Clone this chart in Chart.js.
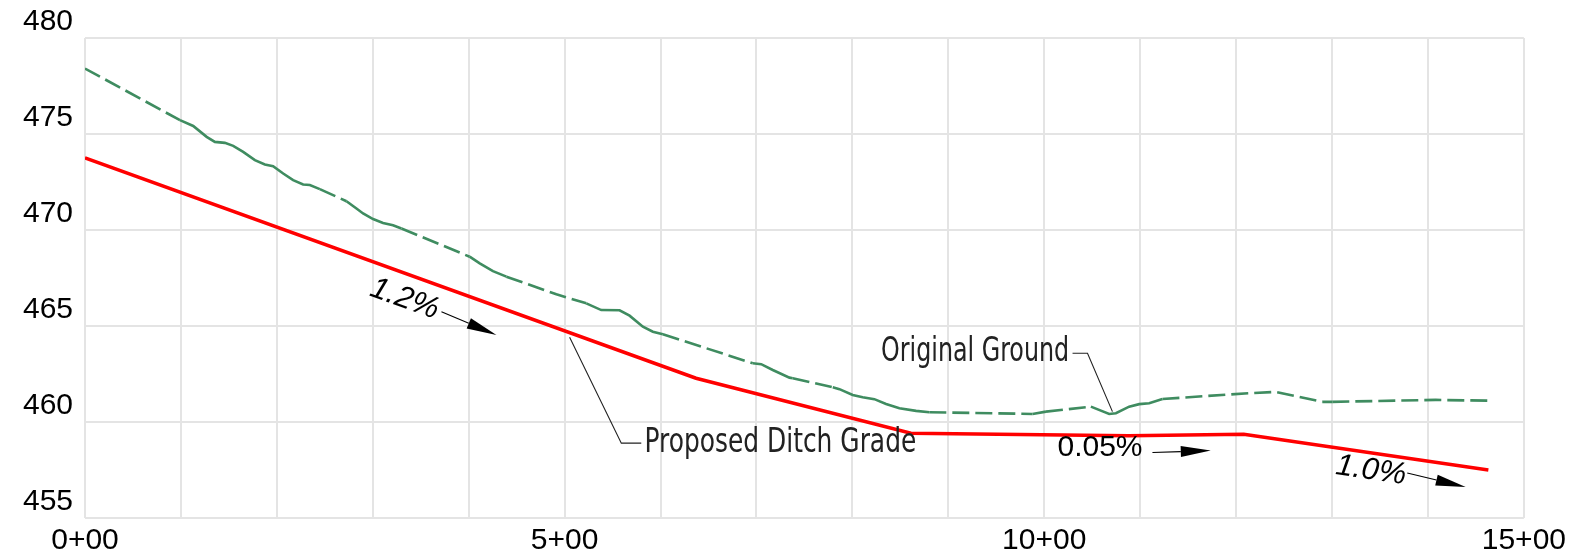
<!DOCTYPE html>
<html>
<head>
<meta charset="utf-8">
<script src="https://cdn.jsdelivr.net/npm/chart.js@4/dist/chart.umd.min.js"></script>
<style>
  body { margin: 0; background: #fff; }
  #wrap { width: 1571px; height: 556px; }
</style>
</head>
<body>
<div id="wrap"><canvas id="profile" width="1571" height="556"></canvas></div>
<script>
// original ground profile (station ft, elevation ft)
const groundStations = [0, 99, 112.8, 126.8, 135.4, 145.8, 154.5, 164.9, 177.1, 187.5, 196.1, 206.6, 217, 227.4, 234.4, 244.8,
    272.6, 283, 289.9, 300.3, 310.7, 321.1, 329.9, 401, 411.5, 425.3, 439.3, 491.4, 522.6, 538.2, 557.3, 567.7, 581.6, 592, 602.4,
    696.1, 704.9, 717, 734.4, 737.8, 779.5, 786.5, 800.3, 810.7, 822.9, 835.1, 849, 866.4, 880.2, 987.8, 1001.8, 1048.6, 1067.7,
    1074.7, 1088.5, 1099, 1109.4, 1123.2, 1213.5, 1241.4, 1289.9, 1300.3, 1408, 1463.5];
const groundElev = [478.41, 475.72, 475.42, 474.85, 474.59, 474.54, 474.38, 474.07, 473.64, 473.41, 473.32, 472.94, 472.60, 472.37, 472.34, 472.13,
    471.50, 471.12, 470.86, 470.57, 470.37, 470.25, 470.08, 468.61, 468.26, 467.86, 467.57, 466.65, 466.18, 465.83, 465.82, 465.54, 464.96, 464.70, 464.57,
    463.06, 463.01, 462.71, 462.31, 462.28, 461.81, 461.71, 461.41, 461.29, 461.19, 460.94, 460.72, 460.58, 460.51, 460.42, 460.54, 460.80, 460.42,
    460.46, 460.80, 460.93, 460.98, 461.20, 461.50, 461.57, 461.05, 461.05, 461.15, 461.11];

// proposed ditch grade
const ditchStations = [0, 637, 861, 1088, 1208, 1463];
const ditchElev = [473.76, 462.28, 459.42, 459.28, 459.36, 457.50];

// axis ticks
const stationMin = 0, stationMax = 1500, stationStep = 100, stationLabelEvery = 500;
const elevMin = 455, elevMax = 480, elevStep = 5;

// grade notes: text, label station/elev, arrow start/end (station, elev), ditch segment the text follows
const gradeText = ['1.2%', '0.05%', '1.0%'];
const gradeAt = [[333.3, 466.40], [1058.1, 458.68], [1340.6, 457.47]];
const gradeArrows = [[371.6, 465.74, 428.9, 464.53], [1112.8, 458.41, 1173.6, 458.51], [1378.4, 457.34, 1439.3, 456.61]];
const gradeSegment = [0, -1, 4];

// leader labels
const leaderText = ['Proposed Ditch Grade', 'Original Ground'];
const leaderPath = [
    [[505.2, 464.41], [559.1, 458.90], [579.9, 458.90]],
    [[1071.1, 460.54], [1045.1, 463.58], [1029.5, 463.58]]
];
const leaderBox = [[583.3, 866.6, 458.86], [829.9, 1026, 463.62]];

function stationLabel(v) {
    if (v % stationLabelEvery !== 0) return '';
    return Math.floor(v / 100) + '+' + String(v % 100).padStart(2, '0');
}

function toPoints(xs, ys) {
    return xs.map((x, i) => ({ x: x, y: ys[i] }));
}

function drawArrow(ctx, x0, y0, x1, y1) {
    const a = Math.atan2(y1 - y0, x1 - x0);
    const len = 30, half = 5.5;
    ctx.beginPath();
    ctx.moveTo(x0, y0);
    ctx.lineTo(x1 - Math.cos(a) * len, y1 - Math.sin(a) * len);
    ctx.stroke();
    ctx.beginPath();
    ctx.moveTo(x1, y1);
    ctx.lineTo(x1 - Math.cos(a) * len - Math.sin(a) * half, y1 - Math.sin(a) * len + Math.cos(a) * half);
    ctx.lineTo(x1 - Math.cos(a) * len + Math.sin(a) * half, y1 - Math.sin(a) * len - Math.cos(a) * half);
    ctx.closePath();
    ctx.fill();
}

const notesPlugin = {
    id: 'notes',
    afterDatasetsDraw(chart) {
        const ctx = chart.ctx;
        const px = v => chart.scales.x.getPixelForValue(v);
        const py = v => chart.scales.y.getPixelForValue(v);
        ctx.save();
        ctx.fillStyle = '#000';
        ctx.strokeStyle = '#000';
        ctx.lineWidth = 1.1;

        // grade labels + arrows
        gradeText.forEach((t, i) => {
            let angle = 0;
            const s = gradeSegment[i];
            if (s >= 0) {
                angle = Math.atan2(py(ditchElev[s + 1]) - py(ditchElev[s]), px(ditchStations[s + 1]) - px(ditchStations[s]));
            }
            ctx.save();
            ctx.translate(px(gradeAt[i][0]), py(gradeAt[i][1]));
            ctx.rotate(angle);
            ctx.font = (s >= 0 ? 'italic 31px ' : '30px ') + '"Liberation Sans", Arial, sans-serif';
            ctx.textAlign = 'center';
            ctx.textBaseline = 'middle';
            ctx.fillText(t, 0, 0);
            ctx.restore();
            const ar = gradeArrows[i];
            drawArrow(ctx, px(ar[0]), py(ar[1]), px(ar[2]), py(ar[3]));
        });

        // leader lines and labels
        ctx.strokeStyle = '#222';
        ctx.fillStyle = '#222';
        leaderText.forEach((t, i) => {
            const path = leaderPath[i];
            ctx.beginPath();
            path.forEach((p, j) => {
                if (j === 0) ctx.moveTo(px(p[0]), py(p[1]));
                else ctx.lineTo(px(p[0]), py(p[1]));
            });
            ctx.stroke();

            const box = leaderBox[i];
            const left = px(box[0]), width = px(box[1]) - left;
            ctx.save();
            ctx.font = '33px "Liberation Sans Narrow", "DejaVu Sans Condensed", sans-serif';
            ctx.textBaseline = 'middle';
            ctx.textAlign = 'left';
            const w = ctx.measureText(t).width;
            ctx.translate(left, py(box[2]));
            ctx.scale(width / w, 1);
            ctx.fillText(t, 0, 0);
            ctx.restore();
        });
        ctx.restore();
    }
};

const ctxProfile = document.getElementById('profile').getContext('2d');

let profileChart = new Chart(ctxProfile, {
    type: 'line',
    data: {
        datasets: [{
            label: 'Original Ground',
            data: toPoints(groundStations, groundElev),
            borderColor: '#3f8c60',
            borderWidth: 2.6,
            pointRadius: 0,
            tension: 0,
            segment: {
                // long segments dashed, short ones read as solid like the CAD linetype
                borderDash: c => Math.hypot(c.p1.x - c.p0.x, c.p1.y - c.p0.y) > 24 ? [17, 6] : []
            }
        }, {
            label: 'Proposed Ditch Grade',
            data: toPoints(ditchStations, ditchElev),
            borderColor: '#ff0000',
            borderWidth: 3.5,
            pointRadius: 0,
            tension: 0
        }]
    },
    options: {
        responsive: false,
        animation: false,
        devicePixelRatio: 1,
        layout: { padding: { top: 38, right: 46, left: 0, bottom: 0 } },
        plugins: {
            legend: { display: false },
            tooltip: { enabled: false }
        },
        scales: {
            x: {
                type: 'linear',
                min: stationMin,
                max: stationMax,
                grid: { color: '#e4e4e4', lineWidth: 2, drawTicks: false },
                border: { display: false },
                afterFit: s => { s.height = 38; },
                ticks: {
                    stepSize: stationStep,
                    autoSkip: false,
                    maxRotation: 0,
                    padding: 5,
                    color: '#000',
                    font: { family: '"Liberation Sans", Arial, sans-serif', size: 30 },
                    callback: v => stationLabel(v)
                }
            },
            y: {
                min: elevMin,
                max: elevMax,
                grid: { color: '#e4e4e4', lineWidth: 2, drawTicks: false },
                border: { display: false },
                afterFit: s => { s.width = 85; },
                ticks: {
                    stepSize: elevStep,
                    padding: 12,
                    labelOffset: -16,
                    color: '#000',
                    font: { family: '"Liberation Sans", Arial, sans-serif', size: 30 }
                }
            }
        }
    },
    plugins: [notesPlugin]
});
</script>
</body>
</html>
